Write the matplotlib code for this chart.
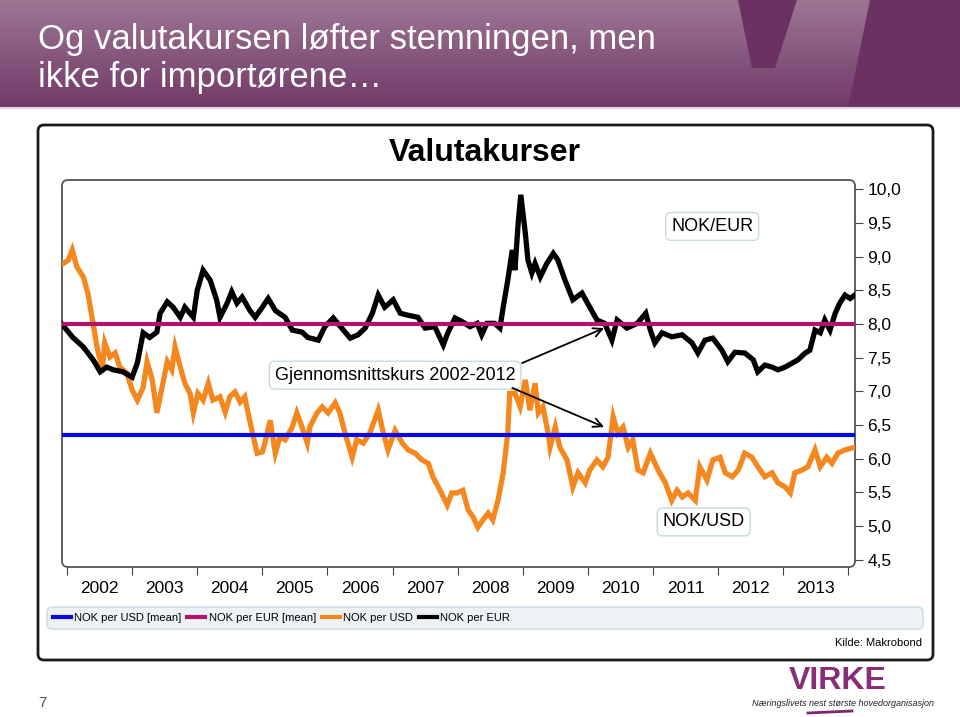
import numpy as np
import matplotlib
matplotlib.use('Agg')
import matplotlib.pyplot as plt
from matplotlib.patches import FancyBboxPatch, Polygon
from matplotlib.lines import Line2D
from matplotlib import font_manager

plt.rcParams['font.family'] = ['Liberation Sans', 'DejaVu Sans']

# =========================
# Data (decimal years)
# =========================
eur_t = [2001.92, 2002.09, 2002.25, 2002.40, 2002.51, 2002.61, 2002.71, 2002.86, 2003.00, 2003.08,
         2003.17, 2003.27, 2003.38, 2003.43, 2003.54, 2003.63, 2003.74, 2003.81, 2003.94, 2004.00,
         2004.09, 2004.20, 2004.30, 2004.35, 2004.46, 2004.53, 2004.61, 2004.69, 2004.81, 2004.89,
         2005.00, 2005.09, 2005.20, 2005.35, 2005.46, 2005.61, 2005.70, 2005.86, 2005.96, 2006.09,
         2006.22, 2006.35, 2006.47, 2006.58, 2006.69, 2006.78, 2006.88, 2007.01, 2007.12, 2007.24,
         2007.39, 2007.50, 2007.65, 2007.78, 2007.85, 2007.96, 2008.08, 2008.19, 2008.30, 2008.37,
         2008.45, 2008.57, 2008.65, 2008.70, 2008.77, 2008.84, 2008.88, 2008.93, 2008.97, 2009.04,
         2009.08, 2009.14, 2009.19, 2009.27, 2009.37, 2009.47, 2009.54, 2009.65, 2009.77, 2009.91,
         2010.03, 2010.14, 2010.26, 2010.37, 2010.45, 2010.60, 2010.76, 2010.89, 2010.96, 2011.03,
         2011.14, 2011.29, 2011.45, 2011.60, 2011.69, 2011.80, 2011.92, 2012.06, 2012.15, 2012.26,
         2012.41, 2012.54, 2012.61, 2012.72, 2012.83, 2012.92, 2013.03, 2013.14, 2013.23, 2013.34,
         2013.41, 2013.49, 2013.57, 2013.64, 2013.72, 2013.80, 2013.87, 2013.95, 2014.03, 2014.10]
eur_v = [8.00, 7.80, 7.66, 7.47, 7.29, 7.36, 7.32, 7.29, 7.21, 7.42,
         7.87, 7.80, 7.88, 8.16, 8.33, 8.25, 8.10, 8.25, 8.10, 8.50,
         8.80, 8.65, 8.35, 8.10, 8.31, 8.48, 8.31, 8.40, 8.20, 8.10,
         8.25, 8.38, 8.20, 8.10, 7.91, 7.88, 7.80, 7.76, 7.96, 8.09,
         7.94, 7.79, 7.84, 7.94, 8.16, 8.43, 8.25, 8.36, 8.16, 8.13,
         8.10, 7.94, 7.96, 7.69, 7.87, 8.09, 8.03, 7.96, 8.01, 7.84,
         8.01, 8.01, 7.94, 8.25, 8.65, 9.10, 8.80, 9.50, 9.92, 9.35,
         8.95, 8.76, 8.90, 8.70, 8.90, 9.05, 8.95, 8.65, 8.36, 8.46,
         8.25, 8.06, 8.01, 7.76, 8.06, 7.94, 8.01, 8.16, 7.91, 7.72,
         7.87, 7.81, 7.84, 7.72, 7.57, 7.76, 7.79, 7.61, 7.44, 7.58,
         7.57, 7.47, 7.29, 7.39, 7.36, 7.32, 7.36, 7.42, 7.47, 7.57,
         7.61, 7.91, 7.87, 8.06, 7.91, 8.16, 8.31, 8.43, 8.38, 8.43]

usd_t = [2001.94, 2002.02, 2002.08, 2002.15, 2002.25, 2002.32, 2002.40, 2002.46, 2002.54, 2002.58,
         2002.66, 2002.74, 2002.81, 2002.92, 2003.00, 2003.08, 2003.17, 2003.23, 2003.31, 2003.38,
         2003.46, 2003.54, 2003.61, 2003.66, 2003.74, 2003.81, 2003.89, 2003.94, 2004.01, 2004.09,
         2004.17, 2004.24, 2004.35, 2004.43, 2004.50, 2004.58, 2004.66, 2004.73, 2004.78, 2004.84,
         2004.92, 2005.00, 2005.04, 2005.12, 2005.20, 2005.27, 2005.35, 2005.46, 2005.53, 2005.61,
         2005.69, 2005.73, 2005.84, 2005.92, 2006.01, 2006.12, 2006.19, 2006.27, 2006.38, 2006.45,
         2006.55, 2006.65, 2006.78, 2006.85, 2006.93, 2007.04, 2007.15, 2007.24, 2007.35, 2007.45,
         2007.55, 2007.62, 2007.73, 2007.84, 2007.91, 2007.99, 2008.08, 2008.16, 2008.24, 2008.31,
         2008.39, 2008.47, 2008.54, 2008.62, 2008.70, 2008.77, 2008.80, 2008.88, 2008.96, 2009.04,
         2009.11, 2009.19, 2009.24, 2009.31, 2009.39, 2009.42, 2009.50, 2009.57, 2009.68, 2009.77,
         2009.85, 2009.96, 2010.03, 2010.14, 2010.23, 2010.31, 2010.39, 2010.46, 2010.54, 2010.62,
         2010.69, 2010.77, 2010.85, 2010.96, 2011.08, 2011.19, 2011.29, 2011.37, 2011.45, 2011.54,
         2011.65, 2011.72, 2011.83, 2011.92, 2012.03, 2012.11, 2012.22, 2012.31, 2012.41, 2012.52,
         2012.61, 2012.72, 2012.83, 2012.92, 2013.03, 2013.11, 2013.18, 2013.29, 2013.38, 2013.49,
         2013.57, 2013.67, 2013.75, 2013.84, 2013.95, 2014.10]
usd_v = [8.90, 8.95, 9.10, 8.85, 8.70, 8.46, 8.01, 7.66, 7.32, 7.72,
         7.51, 7.57, 7.36, 7.27, 7.02, 6.87, 7.06, 7.44, 7.17, 6.68,
         7.06, 7.44, 7.32, 7.66, 7.36, 7.12, 6.97, 6.68, 6.97, 6.87,
         7.12, 6.87, 6.92, 6.69, 6.92, 6.99, 6.84, 6.92, 6.68, 6.42,
         6.08, 6.10, 6.23, 6.57, 6.08, 6.32, 6.28, 6.47, 6.68, 6.47,
         6.23, 6.47, 6.68, 6.77, 6.68, 6.83, 6.68, 6.38, 6.02, 6.28,
         6.23, 6.38, 6.72, 6.42, 6.13, 6.42, 6.23, 6.13, 6.08, 5.98,
         5.93, 5.73, 5.53, 5.31, 5.49, 5.49, 5.53, 5.24, 5.13, 4.98,
         5.09, 5.19, 5.09, 5.38, 5.79, 6.38, 6.97, 6.97, 6.77, 7.17,
         6.72, 7.12, 6.68, 6.77, 6.38, 6.17, 6.47, 6.17, 5.98, 5.58,
         5.79, 5.64, 5.83, 5.98, 5.88, 6.02, 6.62, 6.38, 6.47, 6.17,
         6.28, 5.83, 5.79, 6.08, 5.83, 5.64, 5.38, 5.53, 5.43, 5.49,
         5.38, 5.88, 5.68, 5.98, 6.02, 5.79, 5.73, 5.83, 6.08, 6.02,
         5.88, 5.73, 5.79, 5.64, 5.58, 5.49, 5.79, 5.83, 5.88, 6.13,
         5.88, 6.02, 5.93, 6.08, 6.13, 6.17]

usd_mean = 6.35
eur_mean = 8.00
mean_span = [2001.92, 2014.10]

years = list(range(2002, 2014))
year_edges = list(range(2002, 2015))
y_ticks = [4.5, 5.0, 5.5, 6.0, 6.5, 7.0, 7.5, 8.0, 8.5, 9.0, 9.5, 10.0]

C_USD_MEAN = '#0a0ae6'
C_EUR_MEAN = '#b0156e'
C_USD = '#f5871f'
C_EUR = '#000000'

# =========================
# Figure + background layer (pixel coords)
# =========================
fig = plt.figure(figsize=(9.6, 7.17), dpi=100)
bg = fig.add_axes([0, 0, 1, 1])
bg.axis('off')

top = np.array([158, 118, 148]) / 255
bot = np.array([112, 58, 104]) / 255
grad = np.linspace(0, 1, 108)[:, None, None] * (bot - top) + top
grad = np.repeat(grad, 2, axis=1)
bg.imshow(grad, extent=(0, 960, 108, 0), aspect='auto', interpolation='bilinear')
bg.add_patch(Polygon([(738, 0), (797, 0), (775, 68), (752, 68)], closed=True, fc='#6b3163', ec='none'))
bg.add_patch(Polygon([(870, 0), (960, 0), (960, 108), (848, 108)], closed=True, fc='#6b3163', ec='none'))
bg.plot([0, 960], [108, 108], color='#e6d6e3', lw=1.5)
bg.set_xlim(0, 960)
bg.set_ylim(717, 0)

# header title
names = {f.name for f in font_manager.fontManager.ttflist}
if 'Liberation Sans Narrow' in names:
    head_font, head_size = ['Liberation Sans Narrow', 'DejaVu Sans'], 30.5
else:
    head_font, head_size = ['Liberation Sans', 'DejaVu Sans'], 25
bg.text(38, 40, 'Og valutakursen løfter stemningen, men', color='white', fontsize=head_size,
        family=head_font, ha='left', va='center')
bg.text(38, 78, 'ikke for importørene…', color='white', fontsize=head_size,
        family=head_font, ha='left', va='center')

# chart box
bg.add_patch(FancyBboxPatch((38, 125), 895, 535, boxstyle='round,pad=0,rounding_size=6',
                            lw=2, ec='#1a1a1a', fc='white'))
bg.add_patch(FancyBboxPatch((62, 180), 793, 387, boxstyle='round,pad=0,rounding_size=6',
                            lw=1.3, ec='#555555', fc='none'))
bg.add_patch(FancyBboxPatch((47, 607), 876, 22, boxstyle='round,pad=0,rounding_size=5',
                            lw=1, ec='#c8dce2', fc='#eef2f4'))
bg.text(485, 153, 'Valutakurser', fontsize=23, fontweight='bold', ha='center', va='center')
bg.text(922, 643, 'Kilde: Makrobond', fontsize=8, ha='right', va='center')
bg.text(42, 703, '7', fontsize=11, color='#555555', ha='center', va='center')

# logo
bg.text(838, 681, 'VIRKE', fontsize=23, fontweight='bold', color='#8b2c78', ha='center', va='center')
bg.text(843, 703, 'Næringslivets nest største hovedorganisasjon', fontsize=6.5, style='italic',
        color='#222222', ha='center', va='center')
bg.plot([808, 852], [713, 711], color='#7b2a6e', lw=2)

# =========================
# Plot area
# =========================
ax = fig.add_axes([62 / 960, 1 - 567 / 717, 793 / 960, 387 / 717])
ax.patch.set_alpha(0)
for s in ax.spines.values():
    s.set_visible(False)

ax.plot(usd_t, usd_v, color=C_USD, lw=3.8, solid_joinstyle='miter', zorder=2)
ax.plot(eur_t, eur_v, color=C_EUR, lw=3.8, solid_joinstyle='miter', zorder=2)
ax.plot(mean_span, [usd_mean, usd_mean], color=C_USD_MEAN, lw=3, zorder=3)
ax.plot(mean_span, [eur_mean, eur_mean], color=C_EUR_MEAN, lw=3, zorder=3)

ax.set_xlim(2001.923, 2014.104)
ax.set_ylim(4.39, 10.14)

ax.yaxis.tick_right()
ax.set_yticks(y_ticks)
ax.set_yticklabels([f'{v:.1f}'.replace('.', ',') for v in y_ticks])
ax.tick_params(axis='y', direction='out', length=6, width=0.8, color='#444444',
               labelsize=12.5, pad=3)

ax.set_xticks(year_edges)
ax.set_xticklabels([])
ax.set_xticks([y + 0.5 for y in years], minor=True)
ax.set_xticklabels([str(y) for y in years], minor=True)
ax.tick_params(axis='x', which='major', direction='out', length=6, width=0.8, color='#444444')
ax.tick_params(axis='x', which='minor', length=0, labelsize=12.5, pad=10)

box = dict(boxstyle='round,pad=0.3,rounding_size=0.3', fc='white', ec='#c5dbe0', lw=1)
ax.text(2011.91, 9.45, 'NOK/EUR', fontsize=13, ha='center', va='center', bbox=box, zorder=5)
ax.text(2011.78, 5.06, 'NOK/USD', fontsize=13, ha='center', va='center', bbox=box, zorder=5)
ax.text(2007.04, 7.24, 'Gjennomsnittskurs 2002-2012', fontsize=13, ha='center', va='center',
        bbox=box, zorder=5)
arrow = dict(arrowstyle='->', lw=1.3, color='black', mutation_scale=16, shrinkA=0, shrinkB=0)
ax.annotate('', xy=(2010.25, 7.94), xytext=(2008.99, 7.42), arrowprops=arrow, zorder=5)
ax.annotate('', xy=(2010.25, 6.47), xytext=(2008.84, 7.05), arrowprops=arrow, zorder=5)

# legend
handles = [Line2D([], [], color=C_USD_MEAN, lw=3),
           Line2D([], [], color=C_EUR_MEAN, lw=3),
           Line2D([], [], color=C_USD, lw=3),
           Line2D([], [], color=C_EUR, lw=3)]
labels = ['NOK per USD [mean]', 'NOK per EUR [mean]', 'NOK per USD', 'NOK per EUR']
fig.legend(handles, labels, ncol=4, frameon=False, loc='center left',
           bbox_to_anchor=(53 / 960, 1 - 618 / 717), fontsize=8, handlelength=1.6,
           handletextpad=0.3, columnspacing=0.55, borderpad=0, borderaxespad=0)

fig.savefig('out.png', dpi=100)
